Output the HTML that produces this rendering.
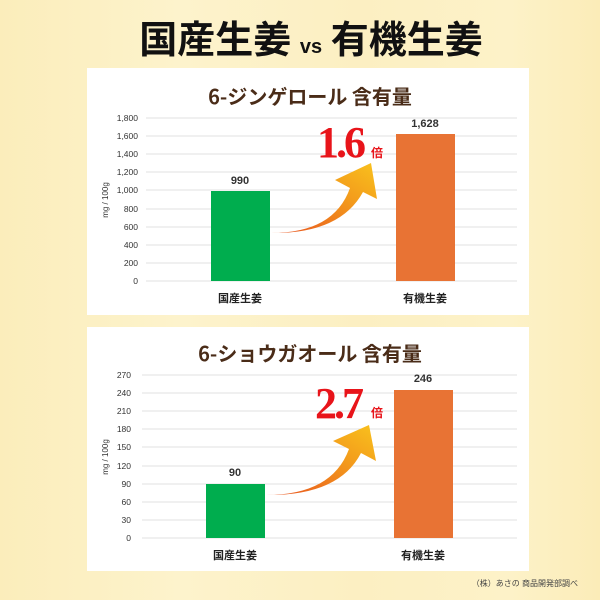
<!DOCTYPE html>
<html><head><meta charset="utf-8"><style>
body{margin:0;width:600px;height:600px;overflow:hidden;background:linear-gradient(90deg,#fbedbb,#fdf3cc 30%,#fcefc2 60%,#fdf2c8 85%,#fbecb8);font-family:"Liberation Sans","Noto Sans CJK JP",sans-serif;}
svg{position:absolute;left:0;top:0}
</style></head><body>
<svg width="600" height="600" viewBox="0 0 600 600">
<defs><linearGradient id="ag" x1="0" y1="1" x2="1" y2="0"><stop offset="0" stop-color="#e8501f"/><stop offset="0.6" stop-color="#f39a1c"/><stop offset="1" stop-color="#f9c21d"/></linearGradient></defs>
<text x="311" y="53" text-anchor="middle" font-size="38" font-weight="bold" fill="#111" font-family="Noto Sans CJK JP,sans-serif">国産生姜 <tspan font-size="20" font-family="Liberation Sans">vs</tspan> 有機生姜</text>
<!-- panel 1 -->
<rect x="87" y="68" width="442" height="247" fill="#fff"/>
<text x="310" y="104" text-anchor="middle" font-size="20" font-weight="bold" fill="#4a2c18" font-family="Noto Sans CJK JP,sans-serif">6-ジンゲロール 含有量</text>
<g stroke="#e2e2e2" stroke-width="1">
<line x1="146" x2="517" y1="118" y2="118"/><line x1="146" x2="517" y1="136" y2="136"/><line x1="146" x2="517" y1="154" y2="154"/><line x1="146" x2="517" y1="172" y2="172"/><line x1="146" x2="517" y1="190" y2="190"/><line x1="146" x2="517" y1="209" y2="209"/><line x1="146" x2="517" y1="227" y2="227"/><line x1="146" x2="517" y1="245" y2="245"/><line x1="146" x2="517" y1="263" y2="263"/><line x1="146" x2="517" y1="281" y2="281"/></g>
<g font-size="8.5" fill="#333" text-anchor="end">
<text x="138" y="121">1,800</text><text x="138" y="139">1,600</text><text x="138" y="157">1,400</text><text x="138" y="175">1,200</text><text x="138" y="193">1,000</text><text x="138" y="212">800</text><text x="138" y="230">600</text><text x="138" y="248">400</text><text x="138" y="266">200</text><text x="138" y="284">0</text></g>
<text transform="translate(108,200) rotate(-90)" text-anchor="middle" font-size="8" fill="#333">mg / 100g</text>
<rect x="211" y="191" width="59" height="90" fill="#00ad4e"/>
<rect x="396" y="134" width="59" height="147" fill="#e87334"/>
<text x="240" y="184" text-anchor="middle" font-size="11" font-weight="bold" fill="#333">990</text>
<text x="425" y="127" text-anchor="middle" font-size="11" font-weight="bold" fill="#333">1,628</text>
<text x="240" y="302" text-anchor="middle" font-size="11" font-weight="bold" fill="#222">国産生姜</text>
<text x="425" y="302" text-anchor="middle" font-size="11" font-weight="bold" fill="#222">有機生姜</text>
<path d="M271 233 Q334 233 350 188 L335 180 L371 163 L377 199 L363 192 Q340 234 271 233Z" fill="url(#ag)"/>
<text x="317" y="157" font-family="Liberation Serif,serif" font-size="44" font-weight="bold" fill="#e8141a" letter-spacing="-3">1.6</text>
<text x="371" y="157" font-size="12" font-weight="bold" fill="#e8141a">倍</text>
<!-- panel 2 -->
<rect x="87" y="327" width="442" height="244" fill="#fff"/>
<text x="310" y="361" text-anchor="middle" font-size="20" font-weight="bold" fill="#4a2c18" font-family="Noto Sans CJK JP,sans-serif">6-ショウガオール 含有量</text>
<g stroke="#e2e2e2" stroke-width="1">
<line x1="142" x2="517" y1="375" y2="375"/><line x1="142" x2="517" y1="393" y2="393"/><line x1="142" x2="517" y1="411" y2="411"/><line x1="142" x2="517" y1="429" y2="429"/><line x1="142" x2="517" y1="447" y2="447"/><line x1="142" x2="517" y1="466" y2="466"/><line x1="142" x2="517" y1="484" y2="484"/><line x1="142" x2="517" y1="502" y2="502"/><line x1="142" x2="517" y1="520" y2="520"/><line x1="142" x2="517" y1="538" y2="538"/></g>
<g font-size="8.5" fill="#333" text-anchor="end">
<text x="131" y="378">270</text><text x="131" y="396">240</text><text x="131" y="414">210</text><text x="131" y="432">180</text><text x="131" y="450">150</text><text x="131" y="469">120</text><text x="131" y="487">90</text><text x="131" y="505">60</text><text x="131" y="523">30</text><text x="131" y="541">0</text></g>
<text transform="translate(108,457) rotate(-90)" text-anchor="middle" font-size="8" fill="#333">mg / 100g</text>
<rect x="206" y="484" width="59" height="54" fill="#00ad4e"/>
<rect x="394" y="390" width="59" height="148" fill="#e87334"/>
<text x="235" y="476" text-anchor="middle" font-size="11" font-weight="bold" fill="#333">90</text>
<text x="423" y="382" text-anchor="middle" font-size="11" font-weight="bold" fill="#333">246</text>
<text x="235" y="559" text-anchor="middle" font-size="11" font-weight="bold" fill="#222">国産生姜</text>
<text x="423" y="559" text-anchor="middle" font-size="11" font-weight="bold" fill="#222">有機生姜</text>
<path d="M266 495 Q332 495 349 449 L333 441 L369 425 L376 461 L361 453 Q339 496 266 495Z" fill="url(#ag)"/>
<text x="315" y="418" font-family="Liberation Serif,serif" font-size="44" font-weight="bold" fill="#e8141a" letter-spacing="-3">2.7</text>
<text x="371" y="417" font-size="12" font-weight="bold" fill="#e8141a">倍</text>
<text x="578" y="586" text-anchor="end" font-size="8" fill="#444">（株）あさの 商品開発部調べ</text>
</svg>
</body></html>
